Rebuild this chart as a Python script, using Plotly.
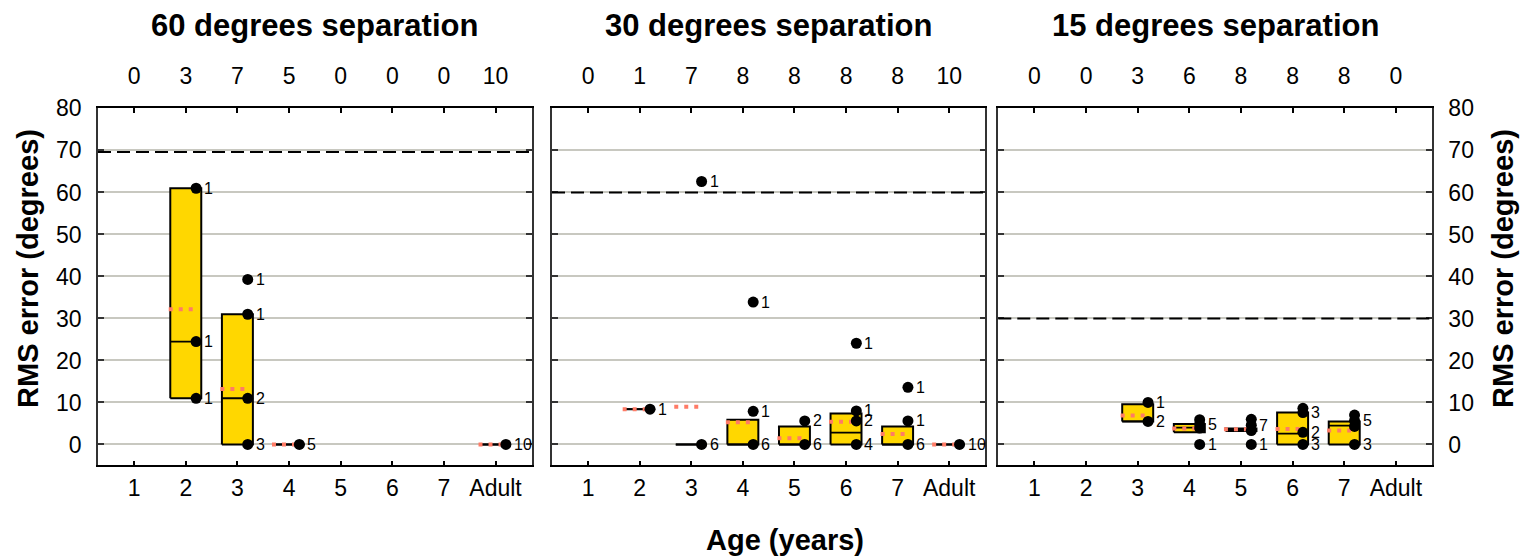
import plotly.graph_objects as go

# ---------------- data ----------------
categories = ["1", "2", "3", "4", "5", "6", "7", "Adult"]
cat_pos = [1, 2, 3, 4, 5, 6, 7, 8]
panel_titles = ["60 degrees separation", "30 degrees separation", "15 degrees separation"]
chance_level = [69.6, 60, 30]

# 60 degrees
n_60 = [0, 3, 7, 5, 0, 0, 0, 10]
q1_60 = [None, 11, 0, 0, None, None, None, 0]
med_60 = [None, 24.5, 11, 0, None, None, None, 0]
q3_60 = [None, 61, 31, 0, None, None, None, 0]
mean_60 = [None, 32.2, 13.2, 0, None, None, None, 0]
dot_cat_60 = [2, 2, 2, 3, 3, 3, 3, 4, 8]
dot_val_60 = [61, 24.5, 11, 39.3, 31, 11, 0, 0, 0]
dot_lab_60 = ["1", "1", "1", "1", "1", "2", "3", "5", "10"]

# 30 degrees
n_30 = [0, 1, 7, 8, 8, 8, 8, 10]
q1_30 = [None, 8.4, 0, 0, 0, 0, 0, 0]
med_30 = [None, 8.4, 0, 0, 0, 2.8, 0, 0]
q3_30 = [None, 8.4, 0, 5.9, 4.3, 7.4, 4.3, 0]
mean_30 = [None, 8.4, 9.0, 5.3, 1.5, 5.4, 2.5, 0]
dot_cat_30 = [2, 3, 3, 4, 4, 4, 5, 5, 6, 6, 6, 6, 7, 7, 7, 8]
dot_val_30 = [8.4, 62.6, 0, 33.9, 7.9, 0, 5.6, 0, 24.1, 8.0, 5.6, 0, 13.6, 5.6, 0, 0]
dot_lab_30 = ["1", "1", "6", "1", "1", "6", "2", "6", "1", "1", "2", "4", "1", "1", "6", "10"]

# 15 degrees
n_15 = [0, 0, 3, 6, 8, 8, 8, 0]
q1_15 = [None, None, 5.5, 2.9, 3.2, 0, 0, None]
med_15 = [None, None, 5.5, 4.0, 3.5, 2.6, 4.5, None]
q3_15 = [None, None, 9.6, 4.9, 3.8, 7.6, 5.5, None]
mean_15 = [None, None, 6.9, 3.8, 3.6, 3.7, 3.3, None]
dot_cat_15 = [3, 3, 4, 4, 4, 4, 5, 5, 5, 5, 6, 6, 6, 6, 7, 7, 7, 7]
dot_val_15 = [10.0, 5.5, 5.9, 4.8, 3.9, 0, 6.0, 4.6, 3.3, 0, 8.6, 7.6, 2.9, 0, 7.0, 5.7, 4.3, 0]
dot_lab_15 = ["1", "2", "", "5", "", "1", "", "7", "", "1", "", "3", "2", "3", "", "5", "", "3"]

panels = [
    (n_60, q1_60, med_60, q3_60, mean_60, dot_cat_60, dot_val_60, dot_lab_60),
    (n_30, q1_30, med_30, q3_30, mean_30, dot_cat_30, dot_val_30, dot_lab_30),
    (n_15, q1_15, med_15, q3_15, mean_15, dot_cat_15, dot_val_15, dot_lab_15),
]

# ---------------- style ----------------
W, H = 1525, 557
FONT = "Liberation Sans, Arial, sans-serif"
GOLD = "#FFD700"
SALMON = "#FF7B66"
GRID = "#C8C8C0"
x_domains = [(98 / W, 531.7 / W), (552 / W, 985.3 / W), (998.3 / W, 1432 / W)]
y_domain = (1 - 463.3 / H, 1 - 97.7 / H)
BOX_HALF = 0.3
DOT_OFF = 0.2

fig = go.Figure()
annotations = []
shapes = []

for k, (n, q1, med, q3, mean, dcat, dval, dlab) in enumerate(panels):
    xa = "x" if k == 0 else f"x{k + 1}"
    ya = "y" if k == 0 else f"y{k + 1}"
    bx, by = [], []
    mx, my = [], []
    ax, ay = [], []
    for c, a, m, b, mu in zip(cat_pos, q1, med, q3, mean):
        if a is None:
            continue
        bx += [c - BOX_HALF, c + BOX_HALF, c + BOX_HALF, c - BOX_HALF, c - BOX_HALF, None]
        by += [a, a, b, b, a, None]
        mx += [c - BOX_HALF, c + BOX_HALF, None]
        my += [m, m, None]
        ax += [c - 0.33, c + 0.25, None]
        ay += [mu, mu, None]
    fig.add_trace(go.Scatter(x=bx, y=by, xaxis=xa, yaxis=ya, mode="lines", fill="toself",
                             fillcolor=GOLD, line=dict(color="black", width=2),
                             hoverinfo="skip", showlegend=False))
    fig.add_trace(go.Scatter(x=mx, y=my, xaxis=xa, yaxis=ya, mode="lines",
                             line=dict(color="black", width=1.8),
                             hoverinfo="skip", showlegend=False))
    fig.add_trace(go.Scatter(x=ax, y=ay, xaxis=xa, yaxis=ya, mode="lines",
                             line=dict(color=SALMON, width=4, dash="4px,6px"),
                             hoverinfo="skip", showlegend=False))
    fig.add_trace(go.Scatter(x=[c + DOT_OFF for c in dcat], y=dval, xaxis=xa, yaxis=ya,
                             mode="markers", marker=dict(color="black", size=11),
                             hoverinfo="skip", showlegend=False))
    for c, v, lab in zip(dcat, dval, dlab):
        if lab:
            annotations.append(dict(x=c + DOT_OFF, y=v, xref=xa, yref=ya, text=lab,
                                    showarrow=False, xanchor="left", yanchor="middle",
                                    xshift=6, font=dict(size=16, color="black", family=FONT)))
    shapes.append(dict(type="line", xref=f"{xa} domain", yref=ya, x0=0, x1=1,
                       y0=chance_level[k], y1=chance_level[k],
                       line=dict(color="black", width=2, dash="13px,6px")))
    fig.add_trace(go.Scatter(x=[cat_pos[0]], y=[-100], xaxis=f"x{k + 4}", yaxis=ya,
                             mode="markers", marker=dict(opacity=0),
                             hoverinfo="skip", showlegend=False))
    annotations.append(dict(x=(x_domains[k][0] + x_domains[k][1]) / 2, y=1 - 13 / H,
                            xref="paper", yref="paper", text=f"<b>{panel_titles[k]}</b>",
                            showarrow=False, xanchor="center", yanchor="middle",
                            font=dict(size=31, color="black", family=FONT)))

layout = dict(width=W, height=H, margin=dict(l=0, r=0, t=0, b=0),
              paper_bgcolor="white", plot_bgcolor="white", showlegend=False,
              font=dict(family=FONT, color="black"))

for k in range(3):
    xkey = "xaxis" if k == 0 else f"xaxis{k + 1}"
    ykey = "yaxis" if k == 0 else f"yaxis{k + 1}"
    xa = "x" if k == 0 else f"x{k + 1}"
    ya = "y" if k == 0 else f"y{k + 1}"
    layout[xkey] = dict(domain=list(x_domains[k]), anchor=ya, range=[0.3, 8.7],
                        tickmode="array", tickvals=cat_pos, ticktext=categories,
                        ticks="inside", ticklen=5, tickwidth=1.5, tickcolor="black",
                        showline=True, linecolor="black", linewidth=1.5, mirror="ticks",
                        showgrid=False, zeroline=False, ticklabelstandoff=1,
                        tickfont=dict(size=23, color="black"))
    layout[f"xaxis{k + 4}"] = dict(overlaying=xa, anchor=ya, side="top", range=[0.3, 8.7],
                                   tickmode="array", tickvals=cat_pos,
                                   ticktext=[str(v) for v in panels[k][0]],
                                   ticks="", showline=False, showgrid=False, zeroline=False,
                                   ticklabelstandoff=19,
                                   tickfont=dict(size=23, color="black"))
    layout[ykey] = dict(domain=list(y_domain), anchor=xa, range=[-5, 80],
                        tickmode="array", tickvals=list(range(0, 81, 10)),
                        ticks="inside", ticklen=6, tickwidth=1.5, tickcolor="#333",
                        showline=True, linecolor="#333", linewidth=1.5, mirror="ticks",
                        showgrid=True, gridcolor=GRID, gridwidth=1.5, zeroline=False,
                        showticklabels=(k != 1), side=("right" if k == 2 else "left"),
                        ticklabelstandoff=10,
                        tickfont=dict(size=23, color="black"))

annotations.append(dict(x=28 / W, y=1 - 262 / H, xref="paper", yref="paper",
                        text="<b>RMS error (degrees)</b>", textangle=-90, showarrow=False,
                        xanchor="center", yanchor="middle",
                        font=dict(size=29, color="black", family=FONT)))
annotations.append(dict(x=1503 / W, y=1 - 262 / H, xref="paper", yref="paper",
                        text="<b>RMS error (degrees)</b>", textangle=-90, showarrow=False,
                        xanchor="center", yanchor="middle",
                        font=dict(size=29, color="black", family=FONT)))
annotations.append(dict(x=785 / W, y=1 - 540 / H, xref="paper", yref="paper",
                        text="<b>Age (years)</b>", showarrow=False,
                        xanchor="center", yanchor="middle",
                        font=dict(size=29, color="black", family=FONT)))

layout["annotations"] = annotations
layout["shapes"] = shapes
fig.update_layout(**layout)
fig.write_html("out.html")
